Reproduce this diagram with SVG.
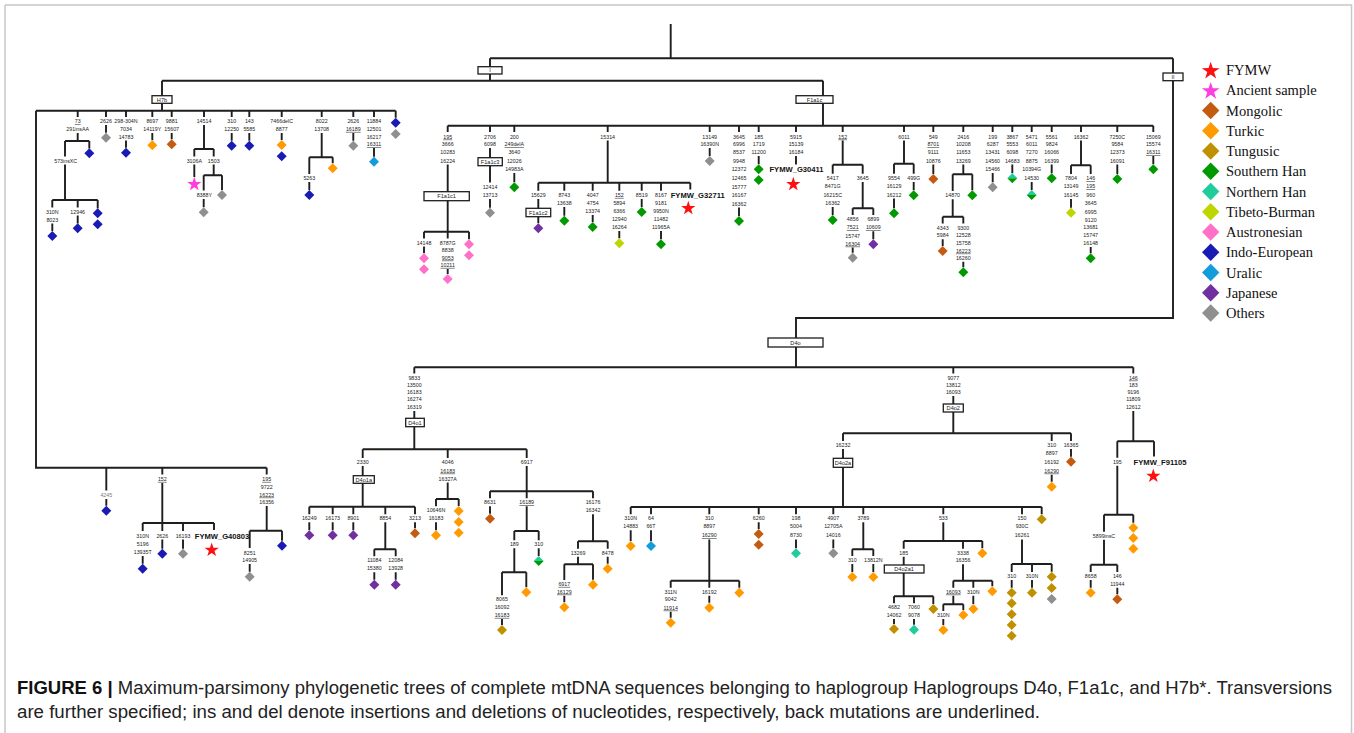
<svg xmlns="http://www.w3.org/2000/svg" width="1354" height="733" viewBox="0 0 1354 733">
<defs>
<style>
.l{fill:none;stroke:#1e1e1e;stroke-width:1.9}
.t{font-family:"Liberation Sans",Arial,sans-serif;font-size:5.3px;fill:#222;text-anchor:middle}
.u{text-decoration:underline}
.b{font-family:"Liberation Sans",Arial,sans-serif;font-size:7.6px;font-weight:bold;fill:#111;text-anchor:middle}
.bx{fill:#fff;stroke:#1e1e1e;stroke-width:1.3}
.bt{font-family:"Liberation Sans",Arial,sans-serif;font-size:5.6px;fill:#222;text-anchor:middle}
.lg{font-family:"Liberation Serif","Times New Roman",serif;font-size:14.5px;fill:#111}
.cap{font-family:"Liberation Sans",Arial,sans-serif;font-size:17.5px;fill:#222}
.fy{fill:#ff1010}.an{fill:#ff3ee0}.mo{fill:#c55a11}.tu{fill:#ff9a00}.tg{fill:#bf9000}.sh{fill:#009a00}.nh{fill:#1fcc9c}.tb{fill:#bdd600}.au{fill:#ff70c8}.ie{fill:#1a1ab4}.ur{fill:#149bdc}.jp{fill:#7030a0}.ot{fill:#8f8f8f}
</style>
<path id="d" d="M0,-5L5,0L0,5L-5,0Z"/>
<path id="D" d="M0,-8.7L8.7,0L0,8.7L-8.7,0Z"/>
<path id="s" d="M0,-7.5L1.705,-2.346L7.133,-2.318L2.758,0.896L4.408,6.068L0,2.9L-4.408,6.068L-2.758,0.896L-7.133,-2.318L-1.705,-2.346Z"/>
<g id="sp"><path d="M-5,0L0,-5L5,0Z" fill="#1fcc9c"/><path d="M-5,0L0,5L5,0Z" fill="#009a00"/></g>
</defs>
<rect width="1354" height="733" fill="#fff"/>
<g id="frame" fill="none" stroke="#c8c8c8" stroke-width="1.5"><path d="M5,5H1351.5V733M5,5V733"/></g>

<g id="connectors" class="l">
<path d="M670.7,24V58.3M490,58.3H1173M490,58.3V80.7M162,80.7H823M162,80.7V110.7M36,110.7H395.7M36,110.7V467.7H266.7M823,80.7V125.7M447.7,125.7H1153.3M1173,58.3V318H796V367.3M414.3,367.3H1133.3"/>
<path d="M77.7,110.7V117M77.7,133V141M65,141H89.3M89.3,141V148.5M65,141V156.5M65,164.5V200M52.3,200H97.7M52.3,200V207.5M52.3,223.5V231M77.7,200V207.5M77.7,215.5V223.5M97.7,200V208.5M106,110.7V117M106,125V132.7M126,110.7V117M126,140.5V147.7M152.3,110.7V117M152.3,133V140.3M171.7,110.7V117M171.7,133V139.3M204,110.7V117M204,125V149M194.3,149H213.7M194.3,149V156.5M194.3,164.5V177M213.7,149V156.5M213.7,164.5V175.3M203.7,175.3H222M203.7,175.3V190.5M203.7,199V207.3M222,175.3V190M231.7,110.7V117M231.7,133V140.7M249.3,110.7V117M249.3,133V140.7M281.7,110.7V117M281.7,133V140M321.7,110.7V117M321.7,133V157.3M309.3,157.3H332.7M309.3,157.3V174M309.3,182V190M332.7,157.3V163.3M353.3,110.7V117M353.3,133V140.7M374,110.7V117M374,148V156.7M395.7,110.7V117.7"/>
<path d="M106.3,467.7V490.5M106.3,499V505.7M162.3,467.7V474.5M162.3,483V523M142.7,523H214M142.7,523V531M142.7,556V563.7M162.3,523V531M162.3,539.5V548.7M183,523V531M183,539.5V548.7M214,523V530M266.7,467.7V474.5M266.7,506V530.7M249.7,530.7H282M249.7,530.7V548M249.7,564V571.7M282,530.7V540.7"/>
<path d="M447.7,125.7V132M447.7,164.5V231.7M424,231.7H469M424,231.7V238.5M424,246.5V253.3M447.7,231.7V238.5M447.7,269V274M469,231.7V239.3M490,125.7V132M490,148V182.5M490,199V207.7M514.3,125.7V132M514.3,173V182.3M607.7,125.7V132M607.7,140.5V182.7M538.3,182.7H690.3M538.3,182.7V190.8M538.3,199V223.3M564.3,182.7V190.8M564.3,207V215.7M592.7,182.7V190.8M592.7,215V222M619.3,182.7V190.8M619.3,231V238.3M641.7,182.7V190.8M641.7,199V207M661,182.7V190.8M661,231V239.3M690.3,182.7V189.5M709.7,125.7V132M709.7,148V156M739,125.7V132M739,207.5V216M758.7,125.7V132M758.7,156V164.3M796,125.7V132M796,156V164.5"/>
<path d="M842.7,125.7V132M842.7,140.5V164.7M832.7,164.7H862.7M832.7,164.7V173.8M832.7,207V215M862.7,164.7V173.8M862.7,182V208.3M852.7,208.3H873.3M852.7,208.3V215M852.7,247.5V252.7M873.3,208.3V215M873.3,231.3V239.3M904,125.7V132M904,140.5V163.7M894,163.7H913.7M894,163.7V173.8M894,198.5V208.3M913.7,163.7V173.8M913.7,182V190.3M933.3,125.7V132M933.3,164.5V174M963.3,125.7V132M963.3,164.5V174.3M952.7,174.3H972.3M952.7,174.3V191M952.7,199.3V216.7M942.7,216.7H963.3M942.7,216.7V223.5M942.7,239.3V246M963.3,216.7V223.5M963.3,261.8V267.3M972.3,174.3V190.3M992.7,125.7V132M992.7,173V182.3M1012.3,125.7V132M1012.3,164.5V173.3M1031.7,125.7V132M1031.7,182V190M1051.7,125.7V132M1051.7,164.5V173.3M1081,125.7V132M1081,140.5V165.3M1071,165.3H1090.7M1071,165.3V174M1071,199V207.7M1090.7,165.3V174M1090.7,247V253.3M1117.3,125.7V132M1117.3,164.5V174M1153.3,125.7V132M1153.3,156V164.3"/>
<path d="M414.3,367.3V373.5M414.3,411V449.3M362.7,449.3H526.7M362.7,449.3V458M362.7,466V506.7M309.3,506.7H415M309.3,506.7V514.3M309.3,522.3V530.3M332.7,506.7V514.3M332.7,522.3V530.3M353.3,506.7V514.3M353.3,522.3V530.3M385.3,506.7V514.3M385.3,522.3V549.3M374.3,549.3H395.7M374.3,549.3V556.3M374.3,572.3V579.7M395.7,549.3V556.3M395.7,572.3V579.7M415,506.7V514.3M415,522.3V528.3M447.7,449.3V458M447.7,482.5V499M436,499H458.7M436,499V506.3M436,522.3V530.3M458.7,499V506M526.7,449.3V458M526.7,466V491.3M490,491.3H593M490,491.3V498.3M490,506.3V513.7M526.7,491.3V498.3M526.7,506.3V531M514.3,531H538.7M514.3,531V540.3M514.3,548.3V572.3M502,572.3H526.3M502,572.3V595.3M502,619V625M526.3,572.3V587.3M538.7,531V540.3M538.7,548.3V556M593,491.3V498.3M593,514.3V541.3M578,541.3H607.7M578,541.3V548.7M578,556.7V564.3M564.3,564.3H593M564.3,564.3V580M564.3,595.7V602.3M593,564.3V579.7M607.7,541.3V548.7M607.7,556.7V563.7"/>
<path d="M953.3,367.3V373.5M953.3,396V433.3M843,433.3H1071M843,433.3V441M843,449V507M630.7,507H1041.7M630.7,507V514.3M630.7,530.3V541M651,507V514.3M651,530.3V541M709.3,507V514.3M709.3,539.5V580.7M670.7,580.7H739.3M670.7,580.7V587.7M670.7,611.7V617.7M709.3,580.7V587.7M709.3,595.7V602.7M739.3,580.7V587.7M758.7,507V514.3M758.7,522.3V529M796,507V514.3M796,539.5V548.3M833.3,507V514.3M833.3,539.5V548.3M863.3,507V514.3M863.3,522.3V549.3M852.3,549.3H873.3M852.3,549.3V556M852.3,564V572M873.3,549.3V556M873.3,564V572M943.3,507V514.3M943.3,522.3V541M903.7,541H982.3M903.7,541V548.7M903.7,556.7V596.3M894,596.3H933.3M894,596.3V603.3M894,619V624M914,596.3V603.3M914,619V624.7M933.3,596.3V604M963,541V548.7M963,564.3V580.7M953.3,580.7H992.3M953.3,580.7V587.7M953.3,595.7V604.3M943.3,604.3H963.3M943.3,604.3V611M943.3,619V625M963.3,604.3V610M973.3,580.7V587.7M973.3,595.7V604M992.3,580.7V586.3M982.3,541V548.3M1022,507V514.3M1022,539.5V564M1011.7,564H1051.7M1011.7,564V572M1011.7,580V587.7M1032,564V572M1032,580V587.7M1051.7,564V571.7M1041.7,507V514.3M1051.7,433.3V441M1051.7,474.7V481.7M1071,433.3V441M1071,449V456.7"/>
<path d="M1133.3,367.3V373.5M1133.3,411V441.3M1117.3,441.3H1154M1117.3,441.3V457.7M1117.3,465.7V514.7M1104,514.7H1133.3M1104,514.7V531.7M1104,539.7V564.7M1090.7,564.7H1117.3M1090.7,564.7V572M1090.7,580V587.7M1117.3,564.7V572M1117.3,587.7V594.3M1133.3,514.7V522.7M1154,441.3V456.5"/>
</g>

<g id="boxes">
<g id="box-I"><rect class="bx" x="478" y="66.7" width="24" height="7.3"/><text class="bt" x="490" y="72.3" font-size="5">I</text></g>
<g id="box-II"><rect class="bx" x="1163" y="73" width="20" height="7.7"/><text class="bt" x="1173" y="78.8" font-size="5">II</text></g>
<g id="box-H7b"><rect class="bx" x="152" y="95.7" width="20" height="7.6"/><text class="bt" x="162" y="101.5">H7b</text></g>
<g id="box-F1a1c"><rect class="bx" x="796" y="95.7" width="37" height="7.6"/><text class="bt" x="814.5" y="101.5">F1a1c</text></g>
<g id="box-F1a1c1"><rect class="bx" x="424" y="191.7" width="45.3" height="9"/><text class="bt" x="446.6" y="198.2">F1a1c1</text></g>
<g id="box-F1a1c3"><rect class="bx" x="478" y="157.7" width="24.3" height="8"/><text class="bt" x="490.1" y="163.7">F1a1c3</text></g>
<g id="box-F1a1c2"><rect class="bx" x="526" y="208.3" width="24.7" height="8.4"/><text class="bt" x="538.3" y="214.5">F1a1c2</text></g>
<g id="box-D4o"><rect class="bx" x="768" y="338" width="55" height="9"/><text class="bt" x="795.5" y="344.5">D4o</text></g>
<g id="box-D4o1"><rect class="bx" x="405.7" y="418.3" width="18.6" height="8.4"/><text class="bt" x="415" y="424.5">D4o1</text></g>
<g id="box-D4o1a"><rect class="bx" x="353.3" y="475.7" width="21" height="7.6"/><text class="bt" x="363.8" y="481.5">D4o1a</text></g>
<g id="box-D4o2"><rect class="bx" x="943.3" y="404" width="20" height="8"/><text class="bt" x="953.3" y="410">D4o2</text></g>
<g id="box-D4o2a"><rect class="bx" x="833.3" y="458.3" width="19.4" height="9"/><text class="bt" x="843" y="464.8">D4o2a</text></g>
<g id="box-D4o2a1"><rect class="bx" x="884.3" y="565" width="39.7" height="8"/><text class="bt" x="904.1" y="571">D4o2a1</text></g>
</g>

<g id="h7b-top">
<g id="h1"><text class="t"><tspan x="77.7" y="123.2" class="u">73</tspan><tspan x="77.7" y="130.9">291insAA</tspan><tspan x="65.7" y="162.6">573insXC</tspan><tspan x="52.3" y="213.6">310N</tspan><tspan x="52.3" y="221.6">8023</tspan><tspan x="77.7" y="213.6">12946</tspan></text>
<use href="#d" x="89.3" y="153.3" class="ie"/><use href="#d" x="52.3" y="236" class="ie"/><use href="#d" x="77.7" y="228.3" class="ie"/><use href="#d" x="97.7" y="213.3" class="ie"/><use href="#d" x="97.7" y="224.3" class="ie"/></g>
<g id="h2"><text class="t" x="106" y="123.2">2626</text><use href="#d" x="106" y="137.7" class="ot"/></g>
<g id="h3"><text class="t"><tspan x="126" y="123.2">298-304N</tspan><tspan x="126" y="130.9">7034</tspan><tspan x="126" y="138.6">14783</tspan></text><use href="#d" x="126" y="152.7" class="ie"/></g>
<g id="h4"><text class="t"><tspan x="152.3" y="123.2">8697</tspan><tspan x="152.3" y="130.9">14119Y</tspan></text><use href="#d" x="152.3" y="145.3" class="tu"/></g>
<g id="h5"><text class="t"><tspan x="171.7" y="123.2">9881</tspan><tspan x="171.7" y="130.9">15607</tspan></text><use href="#d" x="171.7" y="144.3" class="mo"/></g>
<g id="h6"><text class="t"><tspan x="204" y="123.2">14514</tspan><tspan x="194.3" y="162.6">3106A</tspan><tspan x="213.7" y="162.6">1503</tspan><tspan x="204.3" y="196.9">8388Y</tspan></text>
<use href="#s" x="194.3" y="184.3" class="an"/><use href="#d" x="203.7" y="212.3" class="ot"/><use href="#d" x="222" y="195" class="ot"/></g>
<g id="h7"><text class="t"><tspan x="231.7" y="123.2">310</tspan><tspan x="231.7" y="130.9">12250</tspan></text><use href="#d" x="231.7" y="145.7" class="ie"/></g>
<g id="h8"><text class="t"><tspan x="249.3" y="123.2">143</tspan><tspan x="249.3" y="130.9">5585</tspan></text><use href="#d" x="249.3" y="145.7" class="ie"/></g>
<g id="h9"><text class="t"><tspan x="281.7" y="123.2">7466delC</tspan><tspan x="281.7" y="130.9">8877</tspan></text><use href="#d" x="281.7" y="145" class="tu"/><use href="#d" x="281.7" y="156.3" class="ie"/></g>
<g id="h10"><text class="t"><tspan x="321.7" y="123.2">8022</tspan><tspan x="321.7" y="130.9">13708</tspan><tspan x="309.3" y="180.2">5263</tspan></text><use href="#d" x="309.3" y="195" class="ie"/><use href="#d" x="332.7" y="168.3" class="tu"/></g>
<g id="h11"><text class="t"><tspan x="353.3" y="123.2">2626</tspan><tspan x="353.3" y="130.9" class="u">16189</tspan></text><use href="#d" x="353.3" y="145.7" class="ot"/></g>
<g id="h12"><text class="t"><tspan x="374" y="123.2">11884</tspan><tspan x="374" y="130.9">12501</tspan><tspan x="374" y="138.6">16217</tspan><tspan x="374" y="146.2" class="u">16311</tspan></text><use href="#d" x="374" y="161.7" class="ur"/></g>
<g id="h13"><use href="#d" x="395.7" y="122.7" class="ie"/><use href="#d" x="395.7" y="134" class="ot"/></g>
</g>

<g id="h7b-bottom">
<g id="hb1"><text class="t" x="106.3" y="496.9" fill="#777" style="fill:#777">4245</text><use href="#d" x="106.3" y="510.7" class="ie"/></g>
<g id="hb2"><text class="t"><tspan x="162.3" y="480.9" class="u">152</tspan><tspan x="142.7" y="537.6">310N</tspan><tspan x="142.7" y="545.9">5196</tspan><tspan x="142.7" y="554.2">13935T</tspan><tspan x="162.3" y="537.6">2626</tspan><tspan x="183" y="537.6">16193</tspan></text>
<use href="#d" x="142.7" y="568.7" class="ie"/><use href="#d" x="162.3" y="553.7" class="ie"/><use href="#d" x="183" y="553.7" class="ot"/>
<text class="b" x="222" y="539">FYMW_G40803</text><use href="#s" x="211.7" y="550" class="fy"/></g>
<g id="hb3"><text class="t"><tspan x="266.7" y="480.9" class="u">195</tspan><tspan x="266.7" y="488.6">9722</tspan><tspan x="266.7" y="496.6" class="u">16223</tspan><tspan x="266.7" y="503.9">16356</tspan><tspan x="249.7" y="554.6">8251</tspan><tspan x="249.7" y="562.2">14905</tspan></text>
<use href="#d" x="249.7" y="576.7" class="ot"/><use href="#d" x="282" y="545.7" class="ie"/></g>
</g>

<g id="f1a1c">
<g id="f1"><text class="t"><tspan x="447.7" y="138.6" class="u">195</tspan><tspan x="447.7" y="146.2">3666</tspan><tspan x="447.7" y="154.2">10283</tspan><tspan x="447.7" y="162.6">16224</tspan><tspan x="424" y="244.6">14148</tspan><tspan x="447.7" y="244.6">8787G</tspan><tspan x="447.7" y="251.9">8838</tspan><tspan x="447.7" y="259.6" class="u">9053</tspan><tspan x="447.7" y="266.9" class="u">10211</tspan></text>
<use href="#d" x="424" y="258.3" class="au"/><use href="#d" x="424" y="269.3" class="au"/><use href="#d" x="447.7" y="279" class="au"/><use href="#d" x="469" y="244.3" class="au"/><use href="#d" x="469" y="255.3" class="au"/></g>
<g id="f2"><text class="t"><tspan x="490" y="138.6">2706</tspan><tspan x="490" y="146.2">6098</tspan><tspan x="490" y="188.6">12414</tspan><tspan x="490" y="196.9">13713</tspan></text><use href="#d" x="490" y="212.7" class="ot"/></g>
<g id="f3"><text class="t"><tspan x="514.3" y="138.6">200</tspan><tspan x="514.3" y="146.2" class="u">249delA</tspan><tspan x="514.3" y="154.2">3640</tspan><tspan x="514.3" y="162.6">12026</tspan><tspan x="514.3" y="171.2">14983A</tspan></text><use href="#d" x="514.3" y="187.3" class="sh"/></g>
<g id="f4"><text class="t"><tspan x="607.7" y="138.6">15314</tspan><tspan x="538.3" y="196.9">15629</tspan><tspan x="564.3" y="196.9">8743</tspan><tspan x="564.3" y="205.2">13638</tspan><tspan x="592.7" y="196.9">4047</tspan><tspan x="592.7" y="205.2">4754</tspan><tspan x="592.7" y="213.2">13374</tspan><tspan x="619.3" y="196.9" class="u">152</tspan><tspan x="619.3" y="205.2">5894</tspan><tspan x="619.3" y="213.2">6366</tspan><tspan x="619.3" y="221.2">12940</tspan><tspan x="619.3" y="229.2">16264</tspan><tspan x="641.7" y="196.9">8519</tspan><tspan x="661" y="196.9">8167</tspan><tspan x="661" y="205.2">9181</tspan><tspan x="661" y="213.2">9950N</tspan><tspan x="661" y="221.2">11482</tspan><tspan x="661" y="229.2">11965A</tspan></text>
<use href="#d" x="538.3" y="228.3" class="jp"/><use href="#d" x="564.3" y="220.7" class="sh"/><use href="#d" x="592.7" y="227" class="sh"/><use href="#d" x="619.3" y="243.3" class="tb"/><use href="#d" x="641.7" y="212" class="sh"/><use href="#d" x="661" y="244.3" class="sh"/>
<text class="b" x="697.7" y="198">FYMW_G32711</text><use href="#s" x="688.3" y="208.3" class="fy"/></g>
<g id="f5"><text class="t"><tspan x="709.7" y="138.6">13149</tspan><tspan x="709.7" y="146.2">16390N</tspan></text><use href="#d" x="709.7" y="161" class="ot"/></g>
<g id="f6"><text class="t"><tspan x="739" y="138.6">3645</tspan><tspan x="739" y="146.2">6996</tspan><tspan x="739" y="154.2">8537</tspan><tspan x="739" y="162.6">9948</tspan><tspan x="739" y="171.2">12372</tspan><tspan x="739" y="180.2">12465</tspan><tspan x="739" y="188.6">15777</tspan><tspan x="739" y="196.9">16167</tspan><tspan x="739" y="205.6">16362</tspan></text><use href="#d" x="739" y="221" class="sh"/></g>
<g id="f7"><text class="t"><tspan x="758.7" y="138.6">185</tspan><tspan x="758.7" y="146.2">1719</tspan><tspan x="758.7" y="154.2">11200</tspan></text><use href="#d" x="758.7" y="169.3" class="sh"/><use href="#d" x="758.7" y="180" class="sh"/></g>
<g id="f8"><text class="t"><tspan x="796" y="138.6">5915</tspan><tspan x="796" y="146.2">15139</tspan><tspan x="796" y="154.2">16184</tspan></text><text class="b" x="796.5" y="172">FYMW_G30411</text><use href="#s" x="793.3" y="184.3" class="fy"/></g>
<g id="f9"><text class="t"><tspan x="842.7" y="138.6" class="u">152</tspan><tspan x="832.7" y="179.9">5417</tspan><tspan x="832.7" y="188.2">8471G</tspan><tspan x="832.7" y="196.9">16215C</tspan><tspan x="832.7" y="205.2">16362</tspan><tspan x="862.7" y="179.9">3645</tspan><tspan x="852.7" y="221.2">4856</tspan><tspan x="852.7" y="229.4" class="u">7521</tspan><tspan x="852.7" y="237.6">15747</tspan><tspan x="852.7" y="245.6" class="u">16304</tspan><tspan x="873.3" y="221.2">6899</tspan><tspan x="873.3" y="229.4" class="u">10609</tspan></text>
<use href="#d" x="832.7" y="220" class="sh"/><use href="#d" x="852.7" y="257.7" class="ot"/><use href="#d" x="873.3" y="244.3" class="jp"/></g>
<g id="f10"><text class="t"><tspan x="904" y="138.6">6011</tspan><tspan x="894" y="179.9">9554</tspan><tspan x="894" y="188.2">16129</tspan><tspan x="894" y="196.6">16212</tspan><tspan x="913.7" y="179.9">499G</tspan></text><use href="#d" x="894" y="213.3" class="sh"/><use href="#d" x="913.7" y="195.3" class="sh"/></g>
<g id="f11"><text class="t"><tspan x="933.3" y="138.6">549</tspan><tspan x="933.3" y="146.2" class="u">8701</tspan><tspan x="933.3" y="154.2">9111</tspan><tspan x="933.3" y="162.6">10876</tspan></text><use href="#d" x="933.3" y="179" class="mo"/></g>
<g id="f12"><text class="t"><tspan x="963.3" y="138.6">2416</tspan><tspan x="963.3" y="146.2">10208</tspan><tspan x="963.3" y="154.2">11653</tspan><tspan x="963.3" y="162.6">13269</tspan><tspan x="952.7" y="197.2">14870</tspan><tspan x="942.7" y="229.6">4343</tspan><tspan x="942.7" y="237.4">5984</tspan><tspan x="963.3" y="229.6">9300</tspan><tspan x="963.3" y="237.4">12528</tspan><tspan x="963.3" y="245.2">15758</tspan><tspan x="963.3" y="252.6" class="u">16223</tspan><tspan x="963.3" y="259.9">16260</tspan></text>
<use href="#d" x="942.7" y="251" class="mo"/><use href="#d" x="963.3" y="272.3" class="sh"/><use href="#d" x="972.3" y="195.3" class="sh"/></g>
<g id="f13"><text class="t"><tspan x="992.7" y="138.6">199</tspan><tspan x="992.7" y="146.2">6287</tspan><tspan x="992.7" y="154.2">13431</tspan><tspan x="992.7" y="162.6">14560</tspan><tspan x="992.7" y="171.2">15466</tspan></text><use href="#d" x="992.7" y="187.3" class="ot"/></g>
<g id="f14"><text class="t"><tspan x="1012.3" y="138.6">3867</tspan><tspan x="1012.3" y="146.2">5553</tspan><tspan x="1012.3" y="154.2">6098</tspan><tspan x="1012.3" y="162.6">14683</tspan></text><use href="#sp" x="1012.3" y="178.3"/></g>
<g id="f15"><text class="t"><tspan x="1031.7" y="138.6">5471</tspan><tspan x="1031.7" y="146.2">6011</tspan><tspan x="1031.7" y="154.2">7270</tspan><tspan x="1031.7" y="162.6">8875</tspan><tspan x="1031.7" y="171.2">10394G</tspan><tspan x="1031.7" y="180.2">14530</tspan></text><use href="#sp" x="1031.7" y="195"/></g>
<g id="f16"><text class="t"><tspan x="1051.7" y="138.6">5561</tspan><tspan x="1051.7" y="146.2">9824</tspan><tspan x="1051.7" y="154.2">16066</tspan><tspan x="1051.7" y="162.6">16399</tspan></text><use href="#d" x="1051.7" y="178.3" class="sh"/></g>
<g id="f17"><text class="t"><tspan x="1081" y="138.6">16362</tspan><tspan x="1071" y="180.2">7804</tspan><tspan x="1071" y="188.4">13149</tspan><tspan x="1071" y="196.9">16145</tspan><tspan x="1090.7" y="180.2" class="u">146</tspan><tspan x="1090.7" y="188.4" class="u">195</tspan><tspan x="1090.7" y="196.9">960</tspan><tspan x="1090.7" y="205.2">3645</tspan><tspan x="1090.7" y="213.6">6995</tspan><tspan x="1090.7" y="221.6">9120</tspan><tspan x="1090.7" y="229.2">13681</tspan><tspan x="1090.7" y="236.9">15747</tspan><tspan x="1090.7" y="244.9">16148</tspan></text>
<use href="#d" x="1071" y="212.7" class="tb"/><use href="#d" x="1090.7" y="258.3" class="sh"/></g>
<g id="f18"><text class="t"><tspan x="1117.3" y="138.6">7250C</tspan><tspan x="1117.3" y="146.2">9584</tspan><tspan x="1117.3" y="154.2">12373</tspan><tspan x="1117.3" y="162.6">16091</tspan></text><use href="#d" x="1117.3" y="179" class="sh"/></g>
<g id="f19"><text class="t"><tspan x="1153.3" y="138.6">15069</tspan><tspan x="1153.3" y="146.2">15574</tspan><tspan x="1153.3" y="154.2" class="u">16311</tspan></text><use href="#d" x="1153.3" y="169.3" class="sh"/></g>
</g>

<g id="d4o1">
<text class="t"><tspan x="414.3" y="379.6">9833</tspan><tspan x="414.3" y="386.9">13500</tspan><tspan x="414.3" y="393.9">16183</tspan><tspan x="414.3" y="401.2">16274</tspan><tspan x="414.3" y="408.9">16319</tspan></text>
<g id="d1a"><text class="t"><tspan x="362.7" y="463.9">2330</tspan><tspan x="309.3" y="520.2">16249</tspan><tspan x="332.7" y="520.2">16173</tspan><tspan x="353.3" y="520.2">8901</tspan><tspan x="385.3" y="520.2">8854</tspan><tspan x="415" y="520.2">3213</tspan><tspan x="374.3" y="562.2">11084</tspan><tspan x="374.3" y="570.2">15380</tspan><tspan x="395.7" y="562.2">12084</tspan><tspan x="395.7" y="570.2">13928</tspan></text>
<use href="#d" x="309.3" y="535.3" class="jp"/><use href="#d" x="332.7" y="535.3" class="jp"/><use href="#d" x="353.3" y="535.3" class="jp"/><use href="#d" x="374.3" y="584.7" class="jp"/><use href="#d" x="395.7" y="584.7" class="jp"/><use href="#d" x="415" y="533.3" class="mo"/></g>
<g id="d1b"><text class="t"><tspan x="447.7" y="463.9">4046</tspan><tspan x="447.7" y="472.6" class="u">16183</tspan><tspan x="447.7" y="480.6">16327A</tspan><tspan x="436" y="512.2">10646N</tspan><tspan x="436" y="520.2">16183</tspan></text>
<use href="#d" x="436" y="535.3" class="tu"/><use href="#d" x="458.7" y="511" class="tu"/><use href="#d" x="458.7" y="522" class="tu"/><use href="#d" x="458.7" y="532.7" class="tu"/></g>
<g id="d1c"><text class="t"><tspan x="526.7" y="463.9">6917</tspan><tspan x="490" y="504.2">8631</tspan><tspan x="526.7" y="504.2" class="u">16189</tspan><tspan x="514.3" y="546.2">189</tspan><tspan x="502" y="601.2">8065</tspan><tspan x="502" y="609.2">16092</tspan><tspan x="502" y="616.9" class="u">16183</tspan><tspan x="538.7" y="546.2">310</tspan><tspan x="593" y="504.2">16176</tspan><tspan x="593" y="512.2">16342</tspan><tspan x="578" y="554.6">13269</tspan><tspan x="564.3" y="585.9" class="u">6917</tspan><tspan x="564.3" y="593.6" class="u">16129</tspan><tspan x="607.7" y="554.6">8478</tspan></text>
<use href="#d" x="490" y="518.7" class="mo"/><use href="#d" x="502" y="630" class="tg"/><use href="#d" x="526.3" y="592.3" class="tu"/><use href="#sp" x="538.7" y="561"/><use href="#d" x="564.3" y="607.3" class="tu"/><use href="#d" x="593" y="584.7" class="tu"/><use href="#d" x="607.7" y="568.7" class="tu"/></g>
</g>

<g id="d4o2">
<text class="t"><tspan x="953.3" y="379.6">9077</tspan><tspan x="953.3" y="386.9">13812</tspan><tspan x="953.3" y="393.9">16093</tspan><tspan x="843" y="446.9">16232</tspan></text>
<g id="d2a"><text class="t"><tspan x="630.7" y="520.2">310N</tspan><tspan x="630.7" y="528.2">14883</tspan><tspan x="651" y="520.2">64</tspan><tspan x="651" y="528.2">66T</tspan><tspan x="709.3" y="520.2">310</tspan><tspan x="709.3" y="528.2">8897</tspan><tspan x="709.3" y="537.4" class="u">16290</tspan><tspan x="670.7" y="593.6">311N</tspan><tspan x="670.7" y="601.2">9042</tspan><tspan x="670.7" y="609.6" class="u">11914</tspan><tspan x="709.3" y="593.6">16192</tspan><tspan x="758.7" y="520.2">6260</tspan><tspan x="796" y="520.2">198</tspan><tspan x="796" y="528.2">5004</tspan><tspan x="796" y="537.4">8730</tspan><tspan x="833.3" y="520.2">4907</tspan><tspan x="833.3" y="528.2">12705A</tspan><tspan x="833.3" y="537.4">14016</tspan><tspan x="863.3" y="520.2">3789</tspan><tspan x="852.3" y="561.9">310</tspan><tspan x="873.3" y="561.9">13812N</tspan></text>
<use href="#d" x="630.7" y="546" class="tu"/><use href="#d" x="651" y="546" class="ur"/><use href="#d" x="670.7" y="622.7" class="tu"/><use href="#d" x="709.3" y="607.7" class="tu"/><use href="#d" x="739.3" y="592.7" class="tu"/><use href="#d" x="758.7" y="534" class="mo"/><use href="#d" x="758.7" y="544.7" class="mo"/><use href="#d" x="796" y="553.3" class="nh"/><use href="#d" x="833.3" y="553.3" class="ot"/><use href="#d" x="852.3" y="577" class="tu"/><use href="#d" x="873.3" y="577" class="tu"/></g>
<g id="d2a-533"><text class="t"><tspan x="943.3" y="520.2">533</tspan><tspan x="903.7" y="554.6">185</tspan><tspan x="894" y="609.2">4682</tspan><tspan x="894" y="616.9">14062</tspan><tspan x="914" y="609.2">7060</tspan><tspan x="914" y="616.9">9078</tspan><tspan x="963" y="554.6">3338</tspan><tspan x="963" y="562.2">16356</tspan><tspan x="953.3" y="593.6" class="u">16093</tspan><tspan x="943.3" y="616.9">310N</tspan><tspan x="973.3" y="593.6">310N</tspan></text>
<use href="#d" x="894" y="629" class="tg"/><use href="#d" x="914" y="629.7" class="nh"/><use href="#d" x="933.3" y="609" class="tg"/><use href="#d" x="943.3" y="630" class="tu"/><use href="#d" x="963.3" y="615" class="tu"/><use href="#d" x="973.3" y="609" class="tu"/><use href="#d" x="992.3" y="591.3" class="tu"/><use href="#d" x="982.3" y="553.3" class="tu"/></g>
<g id="d2a-150"><text class="t"><tspan x="1022" y="520.2">150</tspan><tspan x="1022" y="528.2">930C</tspan><tspan x="1022" y="537.4">16261</tspan><tspan x="1011.7" y="577.9">310</tspan><tspan x="1032" y="577.9">310N</tspan></text>
<use href="#d" x="1011.7" y="592.7" class="tg"/><use href="#d" x="1011.7" y="603.3" class="tg"/><use href="#d" x="1011.7" y="614.3" class="tg"/><use href="#d" x="1011.7" y="625" class="tg"/><use href="#d" x="1011.7" y="635.7" class="tg"/><use href="#d" x="1032" y="592.7" class="tg"/><use href="#d" x="1051.7" y="576.7" class="tg"/><use href="#d" x="1051.7" y="588" class="tg"/><use href="#d" x="1051.7" y="599" class="ot"/><use href="#d" x="1041.7" y="519.3" class="tg"/></g>
<g id="d2b"><text class="t"><tspan x="1051.7" y="446.9">310</tspan><tspan x="1051.7" y="454.6">8897</tspan><tspan x="1051.7" y="463.6">16192</tspan><tspan x="1051.7" y="472.6" class="u">16290</tspan><tspan x="1071" y="446.9">16365</tspan></text>
<use href="#d" x="1051.7" y="486.7" class="tu"/><use href="#d" x="1071" y="461.7" class="mo"/></g>
</g>

<g id="d4o3">
<text class="t"><tspan x="1133.3" y="379.6" class="u">146</tspan><tspan x="1133.3" y="386.9">183</tspan><tspan x="1133.3" y="393.9">9196</tspan><tspan x="1133.3" y="401.2">11809</tspan><tspan x="1133.3" y="408.9">12612</tspan><tspan x="1117.3" y="463.6">195</tspan><tspan x="1104" y="537.6">5899insC</tspan><tspan x="1090.7" y="577.9">8658</tspan><tspan x="1117.3" y="577.9">146</tspan><tspan x="1117.3" y="585.6">11944</tspan></text>
<use href="#d" x="1090.7" y="592.7" class="tu"/><use href="#d" x="1117.3" y="599.3" class="mo"/><use href="#d" x="1133.3" y="527.7" class="tu"/><use href="#d" x="1133.3" y="538" class="tu"/><use href="#d" x="1133.3" y="548.7" class="tu"/>
<text class="b" x="1160" y="465.4">FYMW_F91105</text><use href="#s" x="1153.3" y="476" class="fy"/>
</g>

<g id="legend">
<g id="lg-fymw"><use href="#s" transform="translate(1210.7,71) scale(1.24)" class="fy"/><text class="lg" x="1226" y="75">FYMW</text></g>
<g id="lg-anc"><use href="#s" transform="translate(1210.7,91.2) scale(1.24)" class="an"/><text class="lg" x="1226" y="95.2">Ancient sample</text></g>
<g id="lg-mo"><use href="#D" x="1210.7" y="110.5" class="mo"/><text class="lg" x="1226" y="115.5">Mongolic</text></g>
<g id="lg-tu"><use href="#D" x="1210.7" y="130.7" class="tu"/><text class="lg" x="1226" y="135.7">Turkic</text></g>
<g id="lg-tg"><use href="#D" x="1210.7" y="151" class="tg"/><text class="lg" x="1226" y="156">Tungusic</text></g>
<g id="lg-sh"><use href="#D" x="1210.7" y="171.2" class="sh"/><text class="lg" x="1226" y="176.2">Southern Han</text></g>
<g id="lg-nh"><use href="#D" x="1210.7" y="191.5" class="nh"/><text class="lg" x="1226" y="196.5">Northern Han</text></g>
<g id="lg-tb"><use href="#D" x="1210.7" y="211.7" class="tb"/><text class="lg" x="1226" y="216.7">Tibeto-Burman</text></g>
<g id="lg-au"><use href="#D" x="1210.7" y="232" class="au"/><text class="lg" x="1226" y="237">Austronesian</text></g>
<g id="lg-ie"><use href="#D" x="1210.7" y="252.2" class="ie"/><text class="lg" x="1226" y="257.2">Indo-European</text></g>
<g id="lg-ur"><use href="#D" x="1210.7" y="272.5" class="ur"/><text class="lg" x="1226" y="277.5">Uralic</text></g>
<g id="lg-jp"><use href="#D" x="1210.7" y="292.7" class="jp"/><text class="lg" x="1226" y="297.7">Japanese</text></g>
<g id="lg-ot"><use href="#D" x="1210.7" y="313" class="ot"/><text class="lg" x="1226" y="318">Others</text></g>
</g>

<g id="caption">
<text class="cap" x="17" y="694" textLength="1315" lengthAdjust="spacingAndGlyphs"><tspan font-weight="bold" fill="#111">FIGURE 6 |</tspan> Maximum-parsimony phylogenetic trees of complete mtDNA sequences belonging to haplogroup Haplogroups D4o, F1a1c, and H7b*. Transversions</text>
<text class="cap" x="17" y="718" textLength="1023" lengthAdjust="spacingAndGlyphs">are further specified; ins and del denote insertions and deletions of nucleotides, respectively, back mutations are underlined.</text>
</g>
</svg>
